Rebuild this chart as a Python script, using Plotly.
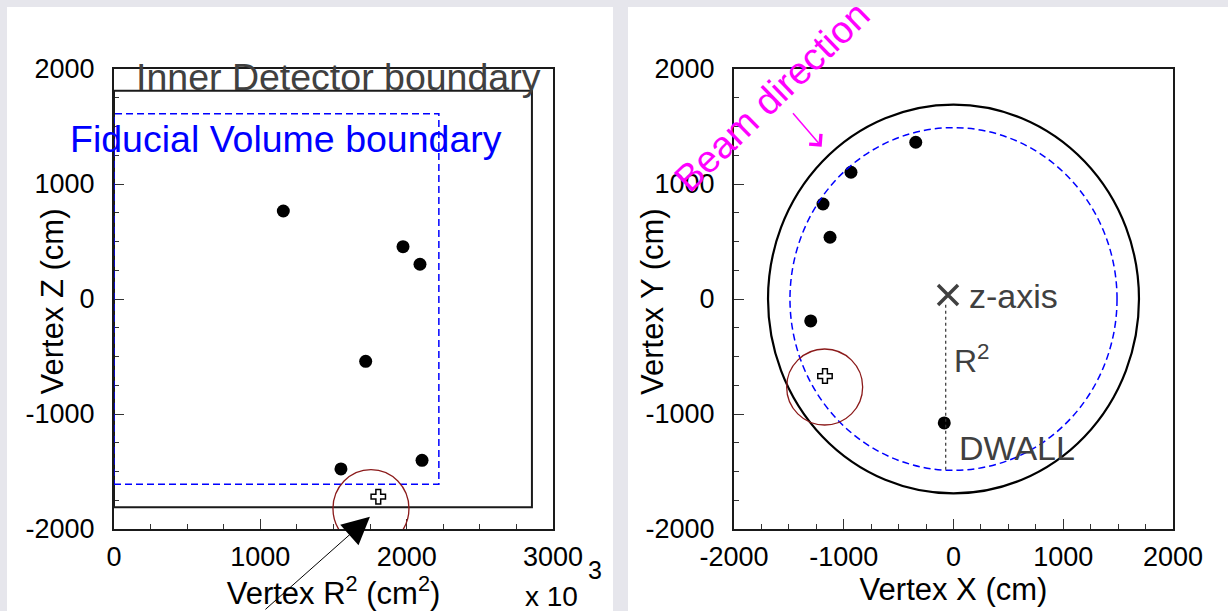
import plotly.graph_objects as go

# ---------------- data ----------------
# Left panel: vertex R^2 (x 10^3 cm^2) vs Z (cm)
r2_events = [1157, 1975, 2091, 1720, 1551, 2105]
z_events = [765, 455, 302, -542, -1478, -1403]
r2_cross = [1806]
z_cross = [-1719]
r2_ring = 1756
z_ring = -1822

# Right panel: vertex X vs Y (cm)
x_events = [-84, -344, -934, -1301, -1125, -1189]
y_events = [-1078, 1363, 1102, -191, 537, 826]
x_cross = [-1171]
y_cross = [-670]
x_ring = -1174
y_ring = -765

# detector geometry
id_radius = 1690          # cm
id_half_height = 1810     # cm
fv_radius = 1490          # cm
fv_half_height = 1610     # cm
id_r2 = 2856              # x 10^3 cm^2
fv_r2 = 2220              # x 10^3 cm^2

# z-axis marker and DWALL line (right panel)
zaxis_x = [-50]
zaxis_y = [35]
dwall_x = -71
dwall_y_top = -50
dwall_y_bottom = -1487

# arrows
black_arrow_tip = (1749, -1893)
beam_arrow_tip = (-1201, 1324)

x_ticks_left = [0, 1000, 2000, 3000]
x_ticktext_left = ["0", "1000", "2000", "3000"]
y_ticks = [-2000, -1000, 0, 1000, 2000]
y_ticktext = ["-2000", "-1000", "0", "1000", "2000"]
x_ticks_right = [-2000, -1000, 0, 1000, 2000]
x_ticktext_right = ["-2000", "-1000", "0", "1000", "2000"]

# ---------------- layout helpers ----------------
W, H = 1228, 611
FONT = "Liberation Sans, Arial, Helvetica, sans-serif"
GREY = "#404040"

def px(x):
    return x / W

def py(y):
    return 1 - y / H

axis_common = dict(
    showline=True, linecolor="#1a1a1a", linewidth=2, mirror=True,
    ticks="inside", ticklen=10, tickwidth=1.2, tickcolor="#333333",
    minor=dict(dtick=250, ticks="inside", ticklen=5, tickwidth=1, tickcolor="#333333"),
    showgrid=False, zeroline=False, automargin=False,
    tickfont=dict(family=FONT, size=27, color="black"),
    title_font=dict(family=FONT, size=31, color="black"),
)

fig = go.Figure()

# left panel markers
fig.add_trace(go.Scatter(x=r2_events, y=z_events, mode="markers",
                         marker=dict(color="black", size=13), xaxis="x", yaxis="y",
                         showlegend=False))
fig.add_trace(go.Scatter(x=r2_cross, y=z_cross, mode="markers",
                         marker=dict(symbol="cross-open", color="black", size=12,
                                     line=dict(width=1.5, color="black")),
                         xaxis="x", yaxis="y", showlegend=False))

# right panel markers
fig.add_trace(go.Scatter(x=x_events, y=y_events, mode="markers",
                         marker=dict(color="black", size=13), xaxis="x2", yaxis="y2",
                         showlegend=False))
fig.add_trace(go.Scatter(x=x_cross, y=y_cross, mode="markers",
                         marker=dict(symbol="cross-open", color="black", size=12,
                                     line=dict(width=1.5, color="black")),
                         xaxis="x2", yaxis="y2", showlegend=False))
fig.add_trace(go.Scatter(x=zaxis_x, y=zaxis_y, mode="markers",
                         marker=dict(symbol="x-thin", color=GREY, size=20,
                                     line=dict(width=3.5, color=GREY)),
                         xaxis="x2", yaxis="y2", showlegend=False))

shapes = [
    # white panels on grey page
    dict(type="rect", xref="paper", yref="paper", x0=px(7), x1=px(613), y0=0, y1=py(7),
         fillcolor="white", line=dict(width=0), layer="below"),
    dict(type="rect", xref="paper", yref="paper", x0=px(628), x1=1, y0=0, y1=py(7),
         fillcolor="white", line=dict(width=0), layer="below"),
    # left: inner detector and fiducial volume
    dict(type="rect", xref="x", yref="y", x0=0, x1=id_r2, y0=-id_half_height, y1=id_half_height,
         line=dict(color="#1a1a1a", width=2)),
    dict(type="rect", xref="x", yref="y", x0=0, x1=fv_r2, y0=-fv_half_height, y1=fv_half_height,
         line=dict(color="#0000ff", width=1.5, dash="7px,4px")),
    # right: inner detector and fiducial volume circles
    dict(type="circle", xref="x2", yref="y2", x0=-id_radius, x1=id_radius,
         y0=-id_radius, y1=id_radius, line=dict(color="black", width=2.2)),
    dict(type="circle", xref="x2", yref="y2", x0=-fv_radius, x1=fv_radius,
         y0=-fv_radius, y1=fv_radius, line=dict(color="#0000ff", width=1.5, dash="7px,4px")),
    # DWALL dotted line
    dict(type="line", xref="x2", yref="y2", x0=dwall_x, x1=dwall_x, y0=dwall_y_top,
         y1=dwall_y_bottom, line=dict(color="#333333", width=1.2, dash="3px,3px")),
    # highlighted vertex rings (pixel-sized)
    dict(type="circle", xref="x", yref="y", xsizemode="pixel", ysizemode="pixel",
         xanchor=r2_ring, yanchor=z_ring, x0=-38, x1=38, y0=-39, y1=39,
         line=dict(color="#8b1a1a", width=1.3)),
    dict(type="circle", xref="x2", yref="y2", xsizemode="pixel", ysizemode="pixel",
         xanchor=x_ring, yanchor=y_ring, x0=-38, x1=38, y0=-38, y1=38,
         line=dict(color="#8b1a1a", width=1.3)),
]

annotations = [
    dict(text="Inner Detector boundary", xref="x", yref="y", x=1531, y=1930,
         showarrow=False, font=dict(family=FONT, size=37.5, color=GREY)),
    dict(text="Fiducial Volume boundary", xref="x", yref="y", x=1176, y=1391,
         showarrow=False, font=dict(family=FONT, size=37.5, color="#0000ff")),
    # axis multiplier of the left x axis
    dict(text="x 10", xref="paper", yref="paper", x=px(551), y=py(614), yanchor="bottom",
         showarrow=False, font=dict(family=FONT, size=28, color="black")),
    dict(text="3", xref="paper", yref="paper", x=px(595), y=py(586),
         showarrow=False, font=dict(family=FONT, size=25, color="black")),
    # y-axis titles
    dict(text="Vertex Z (cm)", xref="paper", yref="paper", x=px(33), y=py(302),
         textangle=-90, showarrow=False, font=dict(family=FONT, size=31, color="black")),
    dict(text="Vertex Y (cm)", xref="paper", yref="paper", x=px(653), y=py(302),
         textangle=-90, showarrow=False, font=dict(family=FONT, size=31, color="black")),
    # arrows and labels
    dict(text="", xref="x", yref="y", x=black_arrow_tip[0], y=black_arrow_tip[1],
         ax=-106, ay=94, showarrow=True, arrowhead=2, arrowsize=5.5, arrowwidth=1,
         arrowcolor="black", standoff=0),
    dict(text="Beam direction", xref="x2", yref="y2", x=-1660, y=1760, textangle=-44,
         showarrow=False, font=dict(family=FONT, size=38, color="#ff00ff")),
    dict(text="", xref="x2", yref="y2", x=beam_arrow_tip[0], y=beam_arrow_tip[1],
         ax=-30, ay=-35, showarrow=True, arrowhead=4, arrowsize=2, arrowwidth=1.5,
         arrowcolor="#ff00ff", standoff=0),
    dict(text="z-axis", xref="x2", yref="y2", x=125, y=30, xanchor="left",
         showarrow=False, font=dict(family=FONT, size=34, color=GREY)),
    dict(text="R<sup>2</sup>", xref="x2", yref="y2", x=-10, y=-522, xanchor="left",
         showarrow=False, font=dict(family=FONT, size=32, color=GREY)),
    dict(text="DWALL", xref="x2", yref="y2", x=35, y=-1296, xanchor="left",
         showarrow=False, font=dict(family=FONT, size=34, color=GREY)),
]

fig.update_layout(
    width=W, height=H, margin=dict(l=0, r=0, t=0, b=0),
    paper_bgcolor="#e6e6ec", plot_bgcolor="white",
    showlegend=False,
    xaxis=dict(axis_common, domain=[px(114), px(553)], range=[0, 3000],
               tickvals=x_ticks_left, ticktext=x_ticktext_left, ticklabelstandoff=3,
               anchor="y", title=dict(text="Vertex R<sup>2</sup> (cm<sup>2</sup>)", standoff=2)),
    yaxis=dict(axis_common, domain=[py(529), py(69)], range=[-2000, 2000],
               tickvals=y_ticks, ticktext=y_ticktext, ticklabelstandoff=12, anchor="x"),
    xaxis2=dict(axis_common, domain=[px(734), px(1173)], range=[-2000, 2000],
                tickvals=x_ticks_right, ticktext=x_ticktext_right, ticklabelstandoff=3,
                anchor="y2", title=dict(text="Vertex X (cm)", standoff=2)),
    yaxis2=dict(axis_common, domain=[py(529), py(69)], range=[-2000, 2000],
                tickvals=y_ticks, ticktext=y_ticktext, ticklabelstandoff=12, anchor="x2"),
    shapes=shapes, annotations=annotations,
)

fig.write_html("out.html")
